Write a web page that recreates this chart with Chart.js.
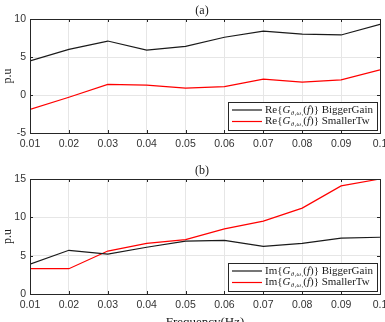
<!DOCTYPE html>
<html>
<head>
<meta charset="utf-8">
<script src="https://cdn.jsdelivr.net/npm/chart.js@4"></script>
<style>
  body { margin: 0; background: #fff; }
  .box { position: absolute; left: 0; width: 385px; }
</style>
</head>
<body>
<div class="box" style="top:0;height:160px"><canvas id="chartA"></canvas></div>
<div class="box" style="top:160px;height:162px"><canvas id="chartB"></canvas></div>
<script>
// frequency points (Hz)
const freqs = [0.01, 0.02, 0.03, 0.04, 0.05, 0.06, 0.07, 0.08, 0.09, 0.1];
const xTicks = [0.01, 0.02, 0.03, 0.04, 0.05, 0.06, 0.07, 0.08, 0.09, 0.1];

// (a) real part
const reBigger = [4.5, 6.0, 7.1, 5.9, 6.4, 7.6, 8.4, 8.0, 7.9, 9.3];
const reSmaller = [-1.9, -0.3, 1.4, 1.3, 0.9, 1.1, 2.1, 1.7, 2.0, 3.3];

// (b) imaginary part
const imBigger = [3.9, 5.7, 5.2, 6.1, 6.9, 7.0, 6.2, 6.6, 7.3, 7.4];
const imSmaller = [3.3, 3.3, 5.6, 6.6, 7.1, 8.5, 9.5, 11.2, 14.1, 15.0];

const seriesNames = ['BiggerGain', 'SmallerTw'];
const seriesColors = ['#1a1a1a', '#ff0000'];

const serif = '"Liberation Serif", "DejaVu Serif", serif';
const sans = '"Liberation Sans", Arial, sans-serif';

function pts(vals) {
  return freqs.map((f, i) => ({ x: f, y: vals[i] }));
}

// draws "Re{G_θ1ω1(f)} Name" piece by piece
function drawLegendText(ctx, x, y, prefix, name) {
  const parts = [
    { t: prefix + '{', f: '11px ' + serif, dy: 0 },
    { t: 'G', f: 'italic 11px ' + serif, dy: 0 },
    { t: 'θ₁ω₁', f: 'italic 6.5px ' + serif, dy: 3 },
    { t: '(', f: '11px ' + serif, dy: 0 },
    { t: 'f', f: 'italic 11px ' + serif, dy: 0 },
    { t: ')} ' + name, f: '11px ' + serif, dy: 0 }
  ];
  ctx.textAlign = 'left';
  ctx.textBaseline = 'middle';
  ctx.fillStyle = '#1a1a1a';
  parts.forEach(p => {
    ctx.font = p.f;
    ctx.fillText(p.t, x, y + p.dy);
    x += ctx.measureText(p.t).width + (p.t === 'G' ? 0.5 : 0);
  });
}

function decorPlugin(title, prefix, xTitle) {
  return {
    id: 'decor',
    afterDraw(chart) {
      const ctx = chart.ctx;
      const a = chart.chartArea;
      const sx = chart.scales.x, sy = chart.scales.y;
      ctx.save();
      // axes box
      ctx.strokeStyle = '#262626';
      ctx.lineWidth = 1;
      ctx.strokeRect(Math.round(a.left) + 0.5, Math.round(a.top) + 0.5,
        Math.round(a.right - a.left), Math.round(a.bottom - a.top));
      // inward tick marks
      ctx.beginPath();
      sx.ticks.forEach(t => {
        const px = Math.round(sx.getPixelForValue(t.value)) + 0.5;
        ctx.moveTo(px, a.bottom); ctx.lineTo(px, a.bottom - 3);
        ctx.moveTo(px, a.top); ctx.lineTo(px, a.top + 3);
      });
      sy.ticks.forEach(t => {
        const py = Math.round(sy.getPixelForValue(t.value)) + 0.5;
        ctx.moveTo(a.left, py); ctx.lineTo(a.left + 3, py);
        ctx.moveTo(a.right, py); ctx.lineTo(a.right - 3, py);
      });
      ctx.stroke();
      // panel title
      ctx.fillStyle = '#1a1a1a';
      ctx.font = '12px ' + serif;
      ctx.textAlign = 'center';
      ctx.textBaseline = 'middle';
      ctx.fillText(title, (a.left + a.right) / 2 - 3, a.top - 8);
      // y label
      ctx.save();
      ctx.translate(8, (a.top + a.bottom) / 2);
      ctx.rotate(-Math.PI / 2);
      ctx.font = '12px ' + serif;
      ctx.fillText('p.u', 0, 0);
      ctx.restore();
      if (xTitle) {
        ctx.font = '13px ' + serif;
        ctx.fillText(xTitle, (a.left + a.right) / 2, chart.height + 1);
      }
      // legend
      const w = 149, h = 28;
      const lx = a.right - 3 - w, ly = a.bottom - 3 - h;
      ctx.fillStyle = '#fff';
      ctx.fillRect(lx, ly, w, h);
      ctx.strokeStyle = '#262626';
      ctx.strokeRect(Math.round(lx) + 0.5, Math.round(ly) + 0.5, w, h);
      seriesNames.forEach((n, i) => {
        const yy = ly + 8 + i * 11.5;
        ctx.strokeStyle = seriesColors[i];
        ctx.lineWidth = 1.2;
        ctx.beginPath();
        ctx.moveTo(lx + 4, yy);
        ctx.lineTo(lx + 34, yy);
        ctx.stroke();
        drawLegendText(ctx, lx + 37, yy, prefix, n);
      });
      ctx.restore();
    }
  };
}

function makeChart(id, a, b, yMin, yMax, title, prefix, xTitle, xH) {
  return new Chart(document.getElementById(id), {
    type: 'line',
    data: {
      datasets: [
        { label: seriesNames[0], data: pts(a), borderColor: seriesColors[0], borderWidth: 1.2, pointRadius: 0, tension: 0 },
        { label: seriesNames[1], data: pts(b), borderColor: seriesColors[1], borderWidth: 1.2, pointRadius: 0, tension: 0 }
      ]
    },
    options: {
      responsive: true,
      maintainAspectRatio: false,
      animation: false,
      layout: { padding: { top: 19, right: 5, left: 0, bottom: 0 } },
      plugins: { legend: { display: false }, tooltip: { enabled: false } },
      scales: {
        x: {
          type: 'linear',
          min: 0.01,
          max: 0.1,
          afterBuildTicks: s => { s.ticks = xTicks.map(v => ({ value: v })); },
          afterFit: s => { s.height = xH; s.paddingLeft = 0; s.paddingRight = 0; },
          grid: { color: '#e6e6e6', drawTicks: false },
          border: { display: false },
          ticks: {
            padding: 5,
            maxRotation: 0,
            autoSkip: false,
            color: '#333333',
            font: { family: sans, size: 10.5 },
            callback: v => String(Math.round(v * 100) / 100)
          }
        },
        y: {
          min: yMin,
          max: yMax,
          afterFit: s => { s.width = 30; },
          grid: { color: '#e6e6e6', drawTicks: false },
          border: { display: false },
          ticks: {
            stepSize: 5,
            padding: 4,
            color: '#333333',
            font: { family: sans, size: 10.5 }
          }
        }
      }
    },
    plugins: [decorPlugin(title, prefix, xTitle)]
  });
}

makeChart('chartA', reBigger, reSmaller, -5, 10, '(a)', 'Re', null, 27);
makeChart('chartB', imBigger, imSmaller, 0, 15, '(b)', 'Im', 'Frequency(Hz)', 28);
</script>
</body>
</html>
